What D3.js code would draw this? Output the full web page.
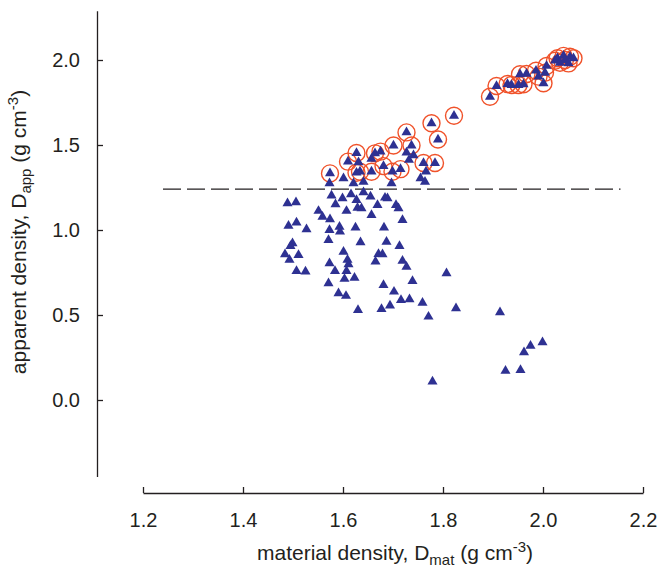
<!DOCTYPE html>
<html>
<head>
<meta charset="utf-8">
<script src="https://cdn.jsdelivr.net/npm/d3@7"></script>
<style>
  body { margin: 0; background: #fff; }
  svg { font-family: "Liberation Sans", Arial, sans-serif; }
</style>
</head>
<body>
<div id="chart"></div>
<script>
// material density, apparent density (g cm-3)
const plainPoints = [
  [1.489, 1.157], [1.506, 1.163], [1.551, 1.112], [1.559, 1.078], [1.574, 1.063],
  [1.577, 1.202], [1.585, 1.151], [1.599, 1.186], [1.607, 1.112], [1.616, 1.210],
  [1.627, 1.176], [1.629, 1.131], [1.637, 1.128], [1.641, 1.222], [1.655, 1.196],
  [1.657, 1.088], [1.669, 1.147], [1.684, 1.190], [1.689, 1.186], [1.706, 1.147],
  [1.711, 1.128], [1.719, 1.059], [1.491, 1.025], [1.507, 1.043], [1.527, 1.004],
  [1.573, 1.000], [1.593, 1.019], [1.594, 0.990], [1.625, 1.014], [1.682, 1.014],
  [1.571, 0.941], [1.635, 0.928], [1.687, 0.931], [1.713, 0.906], [1.499, 0.922],
  [1.495, 0.906], [1.484, 0.857], [1.511, 0.853], [1.493, 0.824], [1.601, 0.872],
  [1.609, 0.824], [1.611, 0.798], [1.573, 0.804], [1.584, 0.759], [1.607, 0.759],
  [1.671, 0.859], [1.679, 0.857], [1.665, 0.814], [1.719, 0.818], [1.727, 0.784],
  [1.507, 0.759], [1.525, 0.755], [1.603, 0.712], [1.623, 0.719], [1.571, 0.686],
  [1.739, 0.700], [1.681, 0.676], [1.702, 0.637], [1.591, 0.628], [1.606, 0.612],
  [1.716, 0.588], [1.733, 0.592], [1.694, 0.555], [1.677, 0.535], [1.630, 0.529],
  [1.807, 0.745], [1.759, 0.572], [1.771, 0.490], [1.826, 0.539], [1.914, 0.516],
  [1.999, 0.339], [1.975, 0.319], [1.962, 0.281], [1.955, 0.176], [1.925, 0.171],
  [1.779, 0.108],
  [1.573, 1.275], [1.601, 1.304], [1.621, 1.275], [1.641, 1.284], [1.631, 1.398],
  [1.697, 1.275], [1.727, 1.456], [1.741, 1.439], [1.732, 1.412], [1.766, 1.343],
  [1.755, 1.304], [1.764, 1.284], [1.657, 1.418]
];

const circledPoints = [
  [1.574, 1.333], [1.610, 1.402], [1.627, 1.453], [1.627, 1.337], [1.634, 1.343],
  [1.657, 1.343], [1.664, 1.451], [1.675, 1.461], [1.681, 1.376], [1.699, 1.343],
  [1.701, 1.497], [1.715, 1.358], [1.727, 1.574], [1.737, 1.497], [1.761, 1.394],
  [1.784, 1.394], [1.777, 1.628], [1.790, 1.532], [1.822, 1.672],
  [1.894, 1.784], [1.907, 1.847], [1.929, 1.859], [1.937, 1.853], [1.951, 1.853],
  [1.961, 1.857], [1.954, 1.916], [1.967, 1.918], [1.986, 1.937], [1.991, 1.902],
  [2.004, 1.925], [2.001, 1.863], [2.007, 1.965], [2.024, 1.996], [2.029, 2.010],
  [2.041, 2.024], [2.034, 1.984], [2.044, 2.000], [2.054, 2.019], [2.061, 2.010],
  [2.051, 1.980]
];

const xTicks = [1.2, 1.4, 1.6, 1.8, 2.0, 2.2];
const yTicks = [0.0, 0.5, 1.0, 1.5, 2.0];
const thresholdApp = 1.24;
const thresholdSpan = [1.24, 2.155];

const width = 660, height = 571;

const svg = d3.select("#chart")
    .append("svg")
    .attr("width", width)
    .attr("height", height);

const xScale = d3.scaleLinear().domain([1.2, 2.2]).range([143, 643]);
const yScale = d3.scaleLinear().domain([-0.45, 2.29]).range([476.5, 10.7]);

// axes, ticks point inwards
const xAxis = d3.axisBottom(xScale)
    .tickValues(xTicks)
    .tickSizeInner(-6)
    .tickSizeOuter(0)
    .tickPadding(20)
    .tickFormat(d3.format(".1f"));

const yAxis = d3.axisLeft(yScale)
    .tickValues(yTicks)
    .tickSizeInner(-6)
    .tickSizeOuter(0)
    .tickPadding(17)
    .tickFormat(d3.format(".1f"));

const gx = svg.append("g")
    .attr("transform", "translate(0,493)")
    .call(xAxis);

const gy = svg.append("g")
    .attr("transform", "translate(97,0)")
    .call(yAxis);

[gx, gy].forEach(g => {
    g.select(".domain").attr("stroke", "#231f20").attr("stroke-width", 1.3);
    g.selectAll(".tick line").attr("stroke", "#231f20").attr("stroke-width", 1.3);
    g.selectAll(".tick text")
        .attr("font-size", "20px")
        .attr("fill", "#231f20")
        .attr("font-family", "Liberation Sans, Arial, sans-serif");
});

// threshold line
svg.append("line")
    .attr("x1", xScale(thresholdSpan[0]))
    .attr("x2", xScale(thresholdSpan[1]))
    .attr("y1", yScale(thresholdApp))
    .attr("y2", yScale(thresholdApp))
    .attr("stroke", "#231f20")
    .attr("stroke-width", 1.3)
    .attr("stroke-dasharray", "18,6");

// circles around selected points
svg.selectAll(".ring")
    .data(circledPoints)
    .enter().append("circle")
    .attr("class", "ring")
    .attr("cx", d => xScale(d[0]))
    .attr("cy", d => yScale(d[1]))
    .attr("r", 8.5)
    .attr("fill", "none")
    .attr("stroke", "#f0522a")
    .attr("stroke-width", 1.4);

const tri = d3.symbol().type(d3.symbolTriangle).size(44);

svg.selectAll(".tri")
    .data(plainPoints.concat(circledPoints))
    .enter().append("path")
    .attr("class", "tri")
    .attr("transform", d => `translate(${xScale(d[0])},${yScale(d[1])})`)
    .attr("d", tri)
    .attr("fill", "#2e3192");

// axis titles
const xTitle = svg.append("text")
    .attr("x", 395)
    .attr("y", 560)
    .attr("text-anchor", "middle")
    .attr("font-size", "21px")
    .attr("fill", "#231f20");
xTitle.append("tspan").text("material density, D");
xTitle.append("tspan").attr("font-size", "15px").attr("dy", 5).text("mat");
xTitle.append("tspan").attr("dy", -5).text(" (g cm");
xTitle.append("tspan").attr("font-size", "15px").attr("dy", -8).text("-3");
xTitle.append("tspan").attr("dy", 8).text(")");

const yTitle = svg.append("text")
    .attr("transform", "translate(26,232) rotate(-90)")
    .attr("text-anchor", "middle")
    .attr("font-size", "21px")
    .attr("fill", "#231f20");
yTitle.append("tspan").text("apparent density, D");
yTitle.append("tspan").attr("font-size", "15px").attr("dy", 5).text("app");
yTitle.append("tspan").attr("dy", -5).text(" (g cm");
yTitle.append("tspan").attr("font-size", "15px").attr("dy", -8).text("-3");
yTitle.append("tspan").attr("dy", 8).text(")");
</script>
</body>
</html>
